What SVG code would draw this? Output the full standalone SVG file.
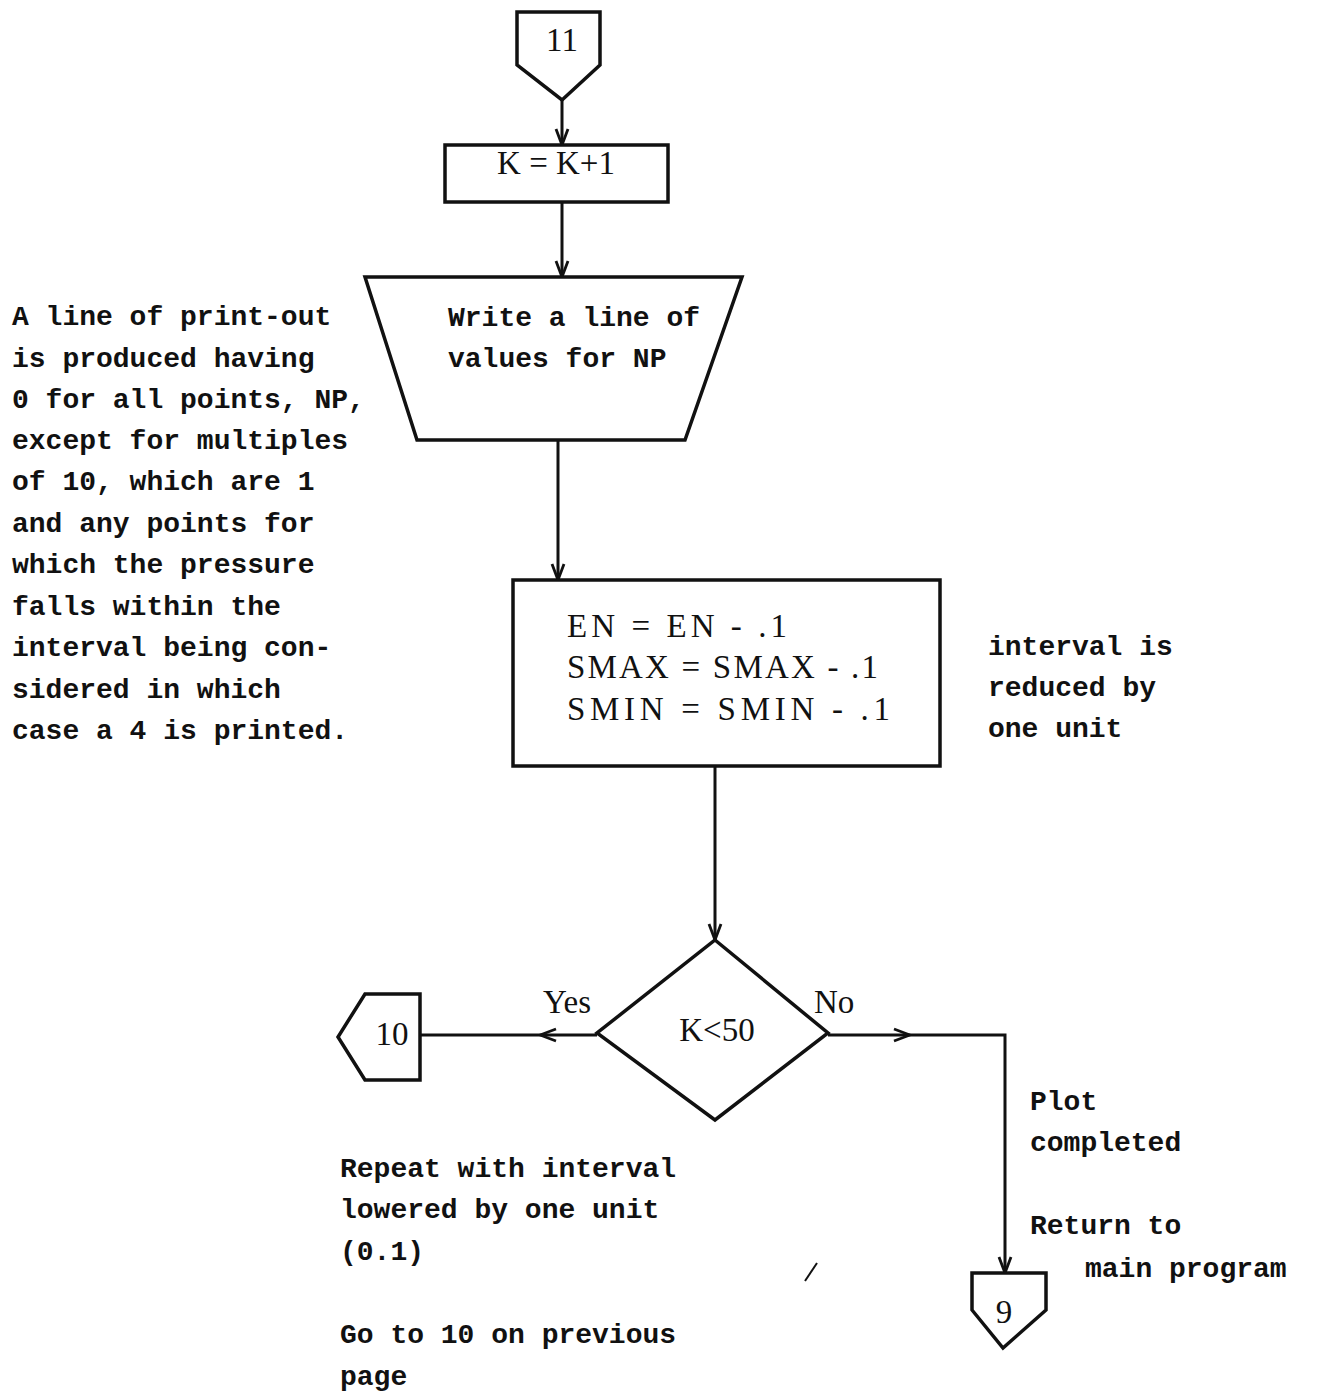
<svg xmlns="http://www.w3.org/2000/svg" width="1323" height="1393" viewBox="0 0 1323 1393">
<style>
.shape{fill:none;stroke:#111;stroke-width:3.5;stroke-linejoin:miter}
.edge{fill:none;stroke:#111;stroke-width:3}
.mono{font-family:"Liberation Mono","DejaVu Sans Mono",monospace;font-size:28px;font-weight:bold;fill:#111}
.serif{font-family:"Liberation Serif","DejaVu Serif",serif;font-size:33px;fill:#111}
</style>
<defs>
<marker id="arr" markerWidth="18" markerHeight="18" refX="17" refY="9" orient="auto" markerUnits="userSpaceOnUse">
<path d="M1,3 L17,9 L1,15" fill="none" stroke="#111" stroke-width="2.8"/>
</marker>
</defs>
<rect width="1323" height="1393" fill="#fff"/>

<g id="connectors">
<line class="edge" x1="562" y1="100" x2="562" y2="145" marker-end="url(#arr)"/>
<line class="edge" x1="562" y1="202" x2="562" y2="277" marker-end="url(#arr)"/>
<line class="edge" x1="558" y1="440" x2="558" y2="580" marker-end="url(#arr)"/>
<line class="edge" x1="715" y1="766" x2="715" y2="940" marker-end="url(#arr)"/>
<line class="edge" x1="597" y1="1035" x2="540" y2="1035" marker-end="url(#arr)"/>
<line class="edge" x1="540" y1="1035" x2="420" y2="1035" stroke-width="4"/>
<line class="edge" x1="828" y1="1035" x2="910" y2="1035" marker-end="url(#arr)"/>
<polyline class="edge" points="910,1035 1005,1035 1005,1273" marker-end="url(#arr)"/>
<text class="serif" x="543" y="1013">Yes</text>
<text class="serif" x="814" y="1013">No</text>
</g>

<g id="n11">
<polygon class="shape" points="517,12 600,12 600,65 562,100 517,65"/>
<text class="serif" x="562" y="51" text-anchor="middle">11</text>
</g>

<g id="nK">
<rect class="shape" x="445" y="145" width="223" height="57"/>
<text class="serif" x="556" y="174" text-anchor="middle">K = K+1</text>
</g>

<g id="nWrite">
<polygon class="shape" points="365,277 742,277 685,440 417,440"/>
<text class="mono" x="448" y="326">Write a line of</text>
<text class="mono" x="448" y="367">values for NP</text>
</g>

<g id="nProc">
<rect class="shape" x="513" y="580" width="427" height="186"/>
<text class="serif" x="567" y="637" textLength="220" lengthAdjust="spacing">EN = EN - .1</text>
<text class="serif" x="567" y="678" textLength="311" lengthAdjust="spacing">SMAX = SMAX - .1</text>
<text class="serif" x="567" y="720" textLength="323" lengthAdjust="spacing">SMIN = SMIN - .1</text>
</g>

<g id="nDec">
<polygon class="shape" points="715,940 828,1033 715,1120 597,1033"/>
<text class="serif" x="717" y="1041" text-anchor="middle">K&lt;50</text>
</g>

<g id="n10">
<polygon class="shape" points="420,994 420,1080 365,1080 338,1037 365,994"/>
<text class="serif" x="392" y="1045" text-anchor="middle">10</text>
</g>

<g id="n9">
<polygon class="shape" points="972,1273 1046,1273 1046,1310 1003,1348 972,1310"/>
<text class="serif" x="1004" y="1323" text-anchor="middle">9</text>
</g>

<g id="notes">
<text class="mono" x="12" y="325">A line of print-out</text>
<text class="mono" x="12" y="367">is produced having</text>
<text class="mono" x="12" y="408">0 for all points, NP,</text>
<text class="mono" x="12" y="449">except for multiples</text>
<text class="mono" x="12" y="490">of 10, which are 1</text>
<text class="mono" x="12" y="532">and any points for</text>
<text class="mono" x="12" y="573">which the pressure</text>
<text class="mono" x="12" y="615">falls within the</text>
<text class="mono" x="12" y="656">interval being con-</text>
<text class="mono" x="12" y="698">sidered in which</text>
<text class="mono" x="12" y="739">case a 4 is printed.</text>

<text class="mono" x="988" y="655">interval is</text>
<text class="mono" x="988" y="696">reduced by</text>
<text class="mono" x="988" y="737">one unit</text>

<text class="mono" x="340" y="1177">Repeat with interval</text>
<text class="mono" x="340" y="1218">lowered by one unit</text>
<text class="mono" x="340" y="1260">(0.1)</text>
<text class="mono" x="340" y="1343">Go to 10 on previous</text>
<text class="mono" x="340" y="1385">page</text>

<text class="mono" x="1030" y="1110">Plot</text>
<text class="mono" x="1030" y="1151">completed</text>
<text class="mono" x="1030" y="1234">Return to</text>
<text class="mono" x="1085" y="1277">main program</text>
<line x1="805" y1="1281" x2="817" y2="1263" stroke="#111" stroke-width="2"/>
</g>
</svg>
